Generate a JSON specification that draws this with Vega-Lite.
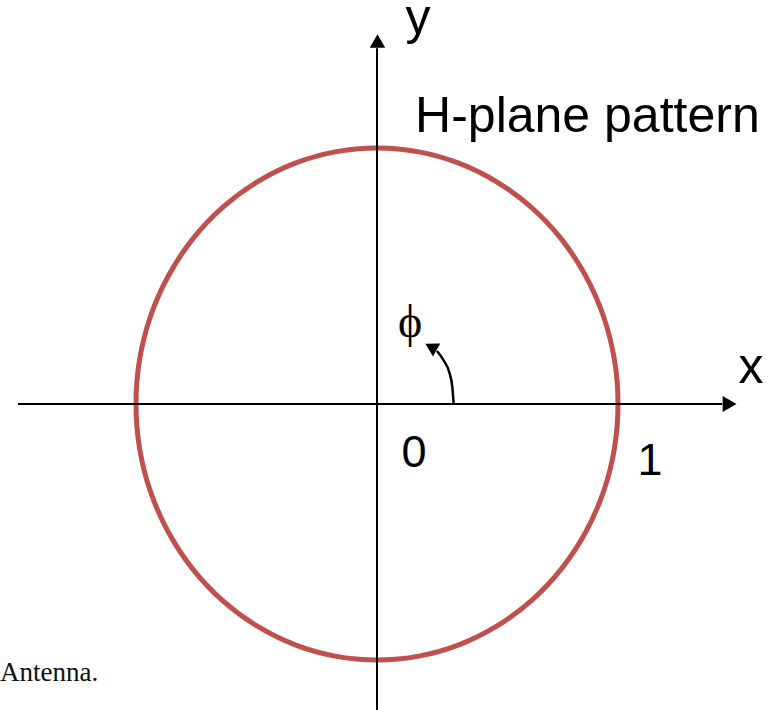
{
  "$schema": "https://vega.github.io/schema/vega-lite/v6.json",
  "width": 774,
  "height": 710,
  "autosize": {"type": "none"},
  "padding": 0,
  "background": "white",
  "config": {"view": {"stroke": null}},
  "encoding": {
    "x": {"field": "x", "type": "quantitative", "axis": null,
          "scale": {"domain": [-1.5643, 1.6473], "nice": false, "zero": false}},
    "y": {"field": "y", "type": "quantitative", "axis": null,
          "scale": {"domain": [-1.1953, 1.5781], "nice": false, "zero": false}}
  },
  "layer": [
    {
      "description": "H-plane pattern of the dipole: unit radius for every phi",
      "data": {"values": [
        {"phi": 0, "x": 1.0, "y": 0.0},
        {"phi": 10, "x": 0.985, "y": 0.174},
        {"phi": 20, "x": 0.94, "y": 0.342},
        {"phi": 30, "x": 0.866, "y": 0.5},
        {"phi": 40, "x": 0.766, "y": 0.643},
        {"phi": 50, "x": 0.643, "y": 0.766},
        {"phi": 60, "x": 0.5, "y": 0.866},
        {"phi": 70, "x": 0.342, "y": 0.94},
        {"phi": 80, "x": 0.174, "y": 0.985},
        {"phi": 90, "x": 0.0, "y": 1.0},
        {"phi": 100, "x": -0.174, "y": 0.985},
        {"phi": 110, "x": -0.342, "y": 0.94},
        {"phi": 120, "x": -0.5, "y": 0.866},
        {"phi": 130, "x": -0.643, "y": 0.766},
        {"phi": 140, "x": -0.766, "y": 0.643},
        {"phi": 150, "x": -0.866, "y": 0.5},
        {"phi": 160, "x": -0.94, "y": 0.342},
        {"phi": 170, "x": -0.985, "y": 0.174},
        {"phi": 180, "x": -1.0, "y": 0.0},
        {"phi": 190, "x": -0.985, "y": -0.174},
        {"phi": 200, "x": -0.94, "y": -0.342},
        {"phi": 210, "x": -0.866, "y": -0.5},
        {"phi": 220, "x": -0.766, "y": -0.643},
        {"phi": 230, "x": -0.643, "y": -0.766},
        {"phi": 240, "x": -0.5, "y": -0.866},
        {"phi": 250, "x": -0.342, "y": -0.94},
        {"phi": 260, "x": -0.174, "y": -0.985},
        {"phi": 270, "x": 0.0, "y": -1.0},
        {"phi": 280, "x": 0.174, "y": -0.985},
        {"phi": 290, "x": 0.342, "y": -0.94},
        {"phi": 300, "x": 0.5, "y": -0.866},
        {"phi": 310, "x": 0.643, "y": -0.766},
        {"phi": 320, "x": 0.766, "y": -0.643},
        {"phi": 330, "x": 0.866, "y": -0.5},
        {"phi": 340, "x": 0.94, "y": -0.342},
        {"phi": 350, "x": 0.985, "y": -0.174}
      ]},
      "mark": {"type": "line", "color": "#c0504d", "strokeWidth": 5, "interpolate": "cardinal-closed"},
      "encoding": {"order": {"field": "phi", "type": "quantitative"}}
    },
    {
      "description": "x and y axis lines",
      "data": {"values": [
        {"axis": "x", "x": -1.49, "x2": 1.432, "y": 0.0, "y2": 0.0},
        {"axis": "y", "x": 0.0, "x2": 0.0, "y": 1.39, "y2": -1.1953}
      ]},
      "mark": {"type": "rule", "color": "black", "strokeWidth": 2},
      "encoding": {
        "x2": {"field": "x2"},
        "y2": {"field": "y2"}
      }
    },
    {
      "data": {"values": [{"x": 1.463, "y": 0.0}]},
      "mark": {"type": "point", "shape": "triangle-right", "filled": true, "color": "black", "opacity": 1, "size": 256}
    },
    {
      "data": {"values": [{"x": 0.002, "y": 1.418}]},
      "mark": {"type": "point", "shape": "triangle-up", "filled": true, "color": "black", "opacity": 1, "size": 240}
    },
    {
      "description": "curved arrow marking the angle phi",
      "data": {"values": [
        {"k": 0, "x": 0.318, "y": 0.0},
        {"k": 1, "x": 0.313, "y": 0.0625},
        {"k": 2, "x": 0.301, "y": 0.121},
        {"k": 3, "x": 0.278, "y": 0.168},
        {"k": 4, "x": 0.249, "y": 0.207}
      ]},
      "mark": {"type": "line", "color": "black", "strokeWidth": 2.5, "interpolate": "monotone"},
      "encoding": {"order": {"field": "k", "type": "quantitative"}}
    },
    {
      "data": {"values": [{"x": 0.224, "y": 0.2234}]},
      "mark": {"type": "point", "shape": "triangle-up", "angle": 299, "filled": true, "color": "black", "opacity": 1, "size": 220}
    },
    {
      "data": {"values": [
        {"label": "y", "x": 0.17, "y": 1.445},
        {"label": "x", "x": 1.552, "y": 0.082}
      ]},
      "mark": {"type": "text", "font": "Liberation Sans", "fontSize": 50, "align": "center", "baseline": "alphabetic", "color": "black"},
      "encoding": {"text": {"field": "label"}}
    },
    {
      "data": {"values": [{"label": "H-plane pattern", "x": 0.158, "y": 1.0625}]},
      "mark": {"type": "text", "font": "Liberation Sans", "fontSize": 50, "align": "left", "baseline": "alphabetic", "color": "black"},
      "encoding": {"text": {"field": "label"}}
    },
    {
      "data": {"values": [
        {"label": "0", "x": 0.154, "y": -0.246},
        {"label": "1", "x": 1.133, "y": -0.277}
      ]},
      "mark": {"type": "text", "font": "Liberation Sans", "fontSize": 45, "align": "center", "baseline": "alphabetic", "color": "black"},
      "encoding": {"text": {"field": "label"}}
    },
    {
      "data": {"values": [{"label": "ϕ", "x": 0.137, "y": 0.262}]},
      "mark": {"type": "text", "font": "Liberation Serif", "fontSize": 46, "align": "center", "baseline": "alphabetic", "color": "black"},
      "encoding": {"text": {"field": "label"}}
    },
    {
      "data": {"values": [{"label": "Antenna.", "x": -1.5643, "y": -1.082}]},
      "mark": {"type": "text", "font": "Liberation Serif", "fontSize": 27, "align": "left", "baseline": "alphabetic", "color": "#111111"},
      "encoding": {"text": {"field": "label"}}
    }
  ]
}
